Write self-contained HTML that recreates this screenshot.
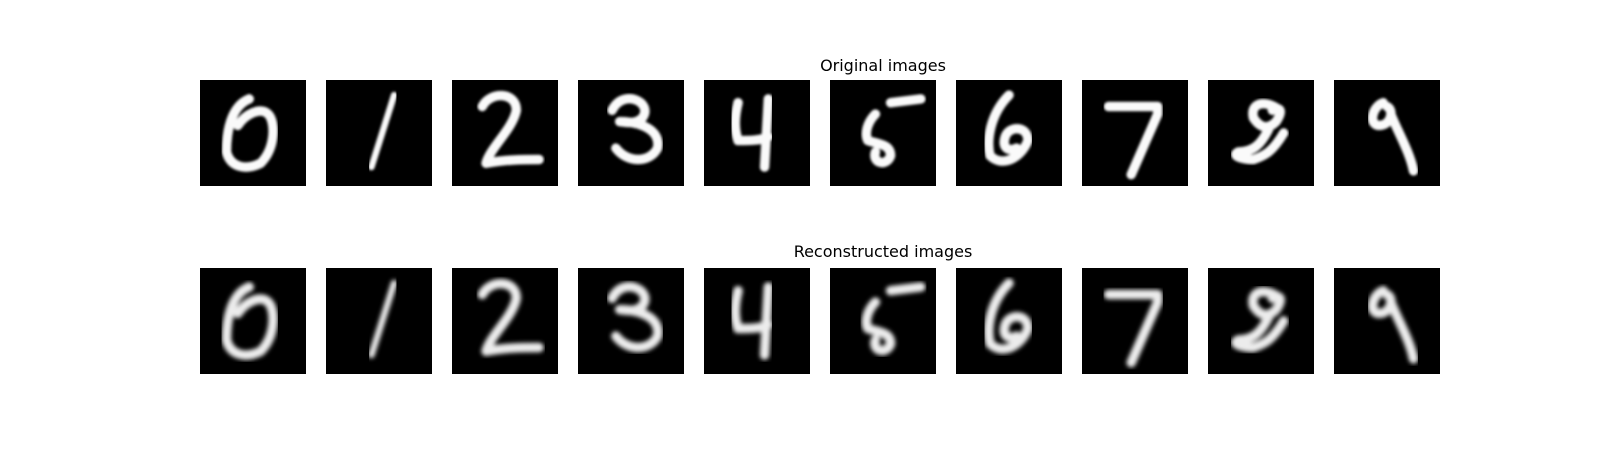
<!DOCTYPE html>
<html><head><meta charset="utf-8">
<style>
html,body{margin:0;padding:0;background:#fff;}
svg{display:block;}
text{font-family:"DejaVu Sans","Liberation Sans",sans-serif;font-size:16px;fill:#000;}
</style></head>
<body>
<svg id="fig" width="1600" height="450" viewBox="0 0 1600 450">
<defs>
<filter id="b1" x="-10%" y="-10%" width="120%" height="120%"><feGaussianBlur stdDeviation="0.35"/></filter>
<filter id="b2" x="-10%" y="-10%" width="120%" height="120%"><feGaussianBlur stdDeviation="0.55"/></filter>
</defs>
<text x="883" y="71" text-anchor="middle">Original images</text>
<text x="883" y="257" text-anchor="middle">Reconstructed images</text>
</svg>
<script>
const digits = [0,1,2,3,4,5,6,7,8,9];
const rowTitles = ["original","reconstructed"];
// stroke shapes in 28x28 pixel space
const shapes = {
0:"M13,5 C8,7 7,14 7,19 C8,23 12,24 16,22 C20,18 20,11 18,9 C16,7 12,9 10,12",
1:"M18,4 L12,23",
2:"M8,7 C10,3 17,3 17,8 C16,13 10,18 9,22 C14,21 19,21 23,21",
3:"M9,8 C12,2 20,6 17,10 C15,12 12,11 11,11 C16,11 22,13 21,18 C19,22 13,22 10,18",
4:"M9,6 C8,10 8,13 9,16 C12,16 15,16 17,15 M17,5 L16,23",
5:"M24,5 L16,6 M12,9 C10,11 9,14 10,16 C13,17 16,17 16,20 C15,23 11,22 12,19",
6:"M14,4 C9,9 8,16 9,20 C12,23 17,21 19,16 C19,12 14,12 13,15 C12,18 14,19 16,18",
7:"M7,7 L20,7 L20,9 L13,25",
8:"M19,8 C15,5 11,6 12,10 C14,13 16,13 18,11 C20,8 19,7 17,8 M16,13 C14,17 12,19 8,19 C6,20 9,21 12,21 C15,20 17,19 20,14",
9:"M13,6 C10,7 9,12 12,12 C15,12 16,8 14,7 M15,9 C17,14 20,19 21,24"
};
const svg = document.getElementById('fig');
const NS = 'http://www.w3.org/2000/svg';
const size = 106, x0 = 200, step = 126;
const rowY = [80, 268];
rowTitles.forEach((row, r) => {
  digits.forEach((d, i) => {
    const g = document.createElementNS(NS,'g');
    
    
    g.setAttribute('transform', `translate(${x0 + i*step},${rowY[r]})`);
    const rect = document.createElementNS(NS,'rect');
    
    
    rect.setAttribute('width', size); rect.setAttribute('height', size);
    rect.setAttribute('fill', '#000');
    g.appendChild(rect);
    const p = document.createElementNS(NS,'path');
    
    
    p.setAttribute('d', shapes[d]);
    p.setAttribute('transform', `scale(${size/28})`);
    p.setAttribute('fill', 'none');
    p.setAttribute('stroke', r ? '#ececec' : '#fafafa');
    p.setAttribute('stroke-width', d === 1 ? 1.7 : 2.5);
    p.setAttribute('stroke-linecap', 'round');
    p.setAttribute('stroke-linejoin', 'round');
    p.setAttribute('filter', r ? 'url(#b2)' : 'url(#b1)');
    g.appendChild(p);
    svg.appendChild(g);
  });
});
</script>
</body></html>
